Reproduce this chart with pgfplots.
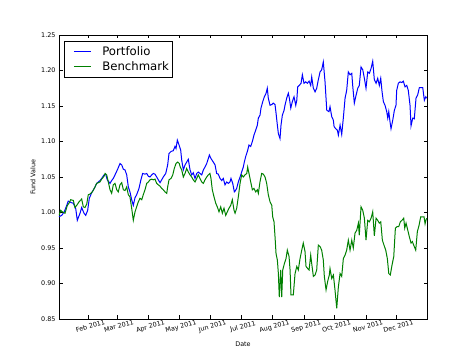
\documentclass[border=0pt]{standalone}
\usepackage{fontspec}
\setmainfont{DejaVu Sans}
\usepackage{pgfplots}
\pgfplotsset{compat=1.18}
\usetikzlibrary{calc}
\definecolor{mplgreen}{rgb}{0,0.5,0}
\definecolor{mplblue}{rgb}{0,0,1}
\begin{document}
\begin{tikzpicture}
\begin{axis}[
  width=368pt, height=284pt, scale only axis,
  xmin=2, xmax=364, ymin=0.85, ymax=1.25,
  axis line style={line width=0.9pt},
  xtick={31,59,90,120,151,181,212,243,273,304,334},
  xticklabels={Feb 2011,Mar 2011,Apr 2011,May 2011,Jun 2011,Jul 2011,Aug 2011,Sep 2011,Oct 2011,Nov 2011,Dec 2011},
  ytick={0.85,0.90,0.95,1.00,1.05,1.10,1.15,1.20,1.25},
  yticklabel style={/pgf/number format/.cd, fixed, fixed zerofill, precision=2},
  /pgf/number format/assume math mode=true,
  tick label style={font=\fontsize{6.4}{7.5}\selectfont},
  xticklabel style={rotate=15, anchor=north, yshift=-1.5pt},
  tick align=inside, major tick length=3.5pt,
  tick style={line width=0.6pt, black},
  every axis x label/.style={at={(axis description cs:0.5,-0.088)}, anchor=center, font=\fontsize{6.4}{7.5}\selectfont},
  every axis y label/.style={at={(axis description cs:-0.0707,0.5)}, anchor=center, rotate=90, font=\fontsize{6.4}{7.5}\selectfont},
  xlabel={Date}, ylabel={Fund Value},
  legend style={at={(axis description cs:0,1)}, anchor=north west, xshift=5pt, yshift=-6pt,
    draw=black, line width=0.6pt, font=\fontsize{11.7}{14}\selectfont, inner xsep=1pt, inner ysep=3pt,
    row sep=1pt},
  legend cell align=left,
  legend image code/.code={\draw[#1, line width=1pt] (-8pt,0pt) (0pt,0pt) -- (17pt,0pt) (26pt,0pt);},
]
\addplot[color=mplblue, draw=mplblue, line width=1pt] coordinates {
(2.0,0.994) (4.7,0.996) (7.2,1.001) (9.6,1.010) (11.1,1.016) (13.8,1.014) (16.1,1.013) (18.4,1.006) (20.0,0.989) (22.7,0.999) (24.3,1.007) (26.6,0.999) (28.3,0.996) (30.2,1.003) (31.8,1.020) (34.2,1.028) (36.7,1.034) (39.1,1.041) (40.7,1.043) (42.3,1.045) (44.0,1.048) (46.3,1.053) (47.9,1.054) (49.5,1.046) (52.2,1.041) (53.8,1.045) (55.4,1.048) (57.1,1.053) (59.7,1.061) (62.0,1.069) (63.7,1.067) (65.3,1.061) (66.9,1.060) (68.6,1.053) (70.2,1.036) (71.8,1.029) (73.5,1.018) (75.1,1.010) (76.8,1.021) (78.4,1.025) (80.7,1.034) (82.4,1.045) (84.3,1.055) (86.6,1.054) (88.3,1.055) (89.9,1.051) (91.5,1.050) (93.2,1.053) (94.8,1.055) (96.4,1.054) (98.1,1.050) (99.7,1.046) (101.4,1.042) (103.0,1.046) (104.6,1.050) (107.0,1.055) (108.9,1.067) (110.2,1.083) (112.2,1.086) (114.4,1.087) (116.1,1.093) (117.1,1.090) (118.4,1.102) (120.1,1.095) (121.7,1.088) (122.7,1.074) (124.3,1.060) (126.0,1.067) (127.6,1.071) (129.2,1.075) (130.9,1.060) (132.5,1.053) (134.1,1.056) (135.8,1.048) (137.5,1.055) (139.0,1.057) (140.7,1.055) (142.4,1.053) (144.0,1.060) (145.6,1.064) (147.3,1.069) (148.9,1.076) (149.9,1.081) (151.5,1.076) (153.8,1.071) (155.5,1.067) (157.1,1.055) (158.7,1.054) (160.4,1.048) (162.1,1.045) (163.6,1.048) (165.3,1.039) (167.0,1.043) (168.6,1.041) (170.2,1.043) (171.2,1.048) (172.9,1.041) (174.5,1.029) (175.2,1.030) (176.8,1.034) (178.4,1.043) (180.1,1.050) (181.7,1.057) (183.3,1.064) (184.3,1.071) (185.7,1.079) (187.3,1.086) (188.9,1.095) (190.6,1.093) (192.2,1.100) (193.8,1.109) (195.5,1.116) (197.1,1.123) (198.1,1.133) (199.7,1.137) (200.7,1.147) (202.4,1.156) (204.0,1.163) (205.7,1.168) (206.9,1.175) (207.9,1.161) (209.6,1.151) (211.3,1.152) (212.8,1.154) (214.5,1.152) (215.5,1.140) (216.8,1.123) (217.8,1.111) (219.4,1.104) (220.4,1.123) (221.7,1.137) (223.4,1.144) (224.3,1.151) (226.0,1.161) (227.6,1.168) (228.6,1.161) (230.0,1.147) (231.5,1.156) (233.2,1.163) (234.9,1.151) (235.9,1.158) (236.8,1.177) (238.4,1.179) (240.1,1.182) (241.4,1.194) (243.0,1.182) (244.7,1.184) (246.3,1.182) (248.0,1.185) (249.6,1.179) (250.6,1.191) (252.2,1.175) (253.9,1.170) (255.5,1.175) (257.1,1.187) (258.8,1.198) (260.4,1.201) (262.0,1.212) (263.7,1.184) (265.4,1.144) (267.6,1.142) (268.6,1.149) (270.3,1.135) (271.9,1.130) (272.6,1.121) (274.2,1.118) (275.8,1.116) (276.8,1.109) (278.5,1.123) (280.1,1.110) (281.7,1.133) (283.4,1.161) (285.0,1.172) (286.6,1.198) (288.3,1.194) (290.0,1.196) (290.9,1.179) (292.5,1.154) (294.2,1.165) (295.9,1.175) (297.4,1.179) (299.1,1.205) (300.8,1.201) (302.4,1.189) (304.0,1.175) (305.7,1.198) (307.3,1.196) (309.0,1.203) (310.6,1.213) (312.2,1.187) (313.9,1.182) (315.5,1.189) (317.1,1.179) (318.5,1.189) (319.8,1.170) (321.1,1.156) (322.7,1.151) (324.4,1.142) (325.4,1.133) (326.4,1.142) (327.6,1.128) (328.6,1.118) (330.3,1.130) (331.9,1.144) (333.5,1.151) (334.2,1.172) (335.8,1.182) (337.5,1.184) (339.2,1.183) (340.7,1.185) (342.4,1.177) (344.1,1.179) (345.6,1.172) (347.3,1.151) (348.3,1.122) (350.0,1.133) (351.5,1.132) (353.2,1.161) (354.9,1.166) (356.5,1.176) (358.1,1.176) (359.8,1.176) (361.4,1.158) (362.8,1.163) (363.7,1.161)
};
\addlegendentry{Portfolio}
\addplot[color=mplgreen, draw=mplgreen, line width=1pt] coordinates {
(2.0,0.996) (3.7,1.003) (5.2,1.001) (7.9,0.999) (10.2,1.010) (11.8,1.013) (13.5,1.018) (16.1,1.017) (17.7,1.007) (19.4,1.010) (21.7,1.015) (24.3,1.019) (25.9,1.008) (27.6,1.007) (29.3,1.012) (30.8,1.025) (32.5,1.026) (34.8,1.029) (37.4,1.036) (39.1,1.041) (40.7,1.042) (42.3,1.043) (44.0,1.047) (46.3,1.051) (47.3,1.055) (48.9,1.053) (50.5,1.043) (52.2,1.032) (53.8,1.027) (55.4,1.039) (57.1,1.041) (58.8,1.032) (60.3,1.029) (62.0,1.039) (63.7,1.042) (65.3,1.032) (66.9,1.031) (68.6,1.036) (70.2,1.025) (71.8,1.022) (73.5,1.006) (75.1,0.989) (76.8,1.001) (78.4,1.008) (80.0,1.015) (81.7,1.020) (83.4,1.018) (84.9,1.025) (86.6,1.032) (88.3,1.041) (89.9,1.043) (91.5,1.046) (93.2,1.047) (94.8,1.046) (96.4,1.047) (98.1,1.041) (99.7,1.039) (101.4,1.037) (103.0,1.034) (104.6,1.032) (106.3,1.029) (108.0,1.027) (108.9,1.036) (110.2,1.046) (112.2,1.048) (113.9,1.053) (115.4,1.062) (117.1,1.069) (118.8,1.071) (120.3,1.069) (121.3,1.064) (122.7,1.060) (124.3,1.050) (126.0,1.055) (127.6,1.062) (129.2,1.057) (130.9,1.053) (132.5,1.050) (134.1,1.046) (135.8,1.043) (137.5,1.048) (139.0,1.053) (140.7,1.048) (142.4,1.043) (144.0,1.041) (145.6,1.046) (147.3,1.050) (148.9,1.053) (150.5,1.055) (151.5,1.048) (152.8,1.032) (154.5,1.022) (156.2,1.013) (157.7,1.008) (159.4,1.001) (161.1,1.008) (162.7,0.999) (164.3,1.006) (166.0,0.996) (167.6,1.001) (169.2,1.006) (170.9,1.010) (172.5,1.018) (174.2,1.003) (175.2,0.999) (176.8,1.006) (178.4,1.022) (180.1,1.041) (181.7,1.053) (183.3,1.050) (185.0,1.053) (186.7,1.055) (187.6,1.064) (188.9,1.055) (190.6,1.043) (192.2,1.032) (193.8,1.034) (195.5,1.029) (197.1,1.032) (198.1,1.027) (199.7,1.043) (201.4,1.055) (203.0,1.054) (204.7,1.050) (206.3,1.041) (207.9,1.025) (209.6,1.015) (211.3,1.010) (212.2,0.994) (213.5,0.987) (214.5,0.966) (215.5,0.942) (216.8,0.933) (217.8,0.914) (218.7,0.881) (220.1,0.919) (221.1,0.881) (222.1,0.919) (223.7,0.928) (225.3,0.935) (226.6,0.947) (228.3,0.938) (229.3,0.919) (230.2,0.884) (232.5,0.884) (234.2,0.914) (235.9,0.924) (237.4,0.919) (239.1,0.935) (240.8,0.947) (242.3,0.957) (244.0,0.945) (245.0,0.924) (246.7,0.921) (248.0,0.919) (249.6,0.940) (250.6,0.928) (252.2,0.910) (253.9,0.912) (255.5,0.919) (257.1,0.954) (258.8,0.952) (260.4,0.947) (262.0,0.933) (263.0,0.910) (264.7,0.891) (266.3,0.903) (267.9,0.912) (268.6,0.921) (270.3,0.907) (271.9,0.912) (273.5,0.891) (275.2,0.865) (276.8,0.895) (278.5,0.914) (280.1,0.910) (281.7,0.935) (283.4,0.940) (285.0,0.947) (286.6,0.961) (288.3,0.947) (290.0,0.961) (291.5,0.950) (293.2,0.971) (294.9,0.975) (296.5,0.985) (297.4,0.968) (299.1,1.008) (300.8,1.003) (302.4,0.992) (304.0,0.961) (305.7,0.989) (307.3,0.987) (309.0,0.992) (310.6,1.001) (312.2,0.967) (313.9,0.992) (315.5,0.989) (317.1,0.985) (318.5,0.987) (320.1,0.961) (321.7,0.954) (323.4,0.947) (325.0,0.935) (326.4,0.914) (327.9,0.912) (329.6,0.926) (331.3,0.938) (332.9,0.978) (334.5,0.980) (336.2,0.980) (337.8,0.987) (339.4,0.989) (341.1,0.992) (342.1,0.978) (343.4,0.985) (345.1,0.975) (346.6,0.966) (348.3,0.957) (349.6,0.959) (351.2,0.953) (352.9,0.947) (354.5,0.973) (356.2,0.982) (357.8,0.994) (359.4,0.994) (361.1,0.994) (362.1,0.984) (363.1,0.990) (364.0,0.992)
};
\addlegendentry{Benchmark}
\end{axis}
\pgfresetboundingbox
\path[use as bounding box] ($(current axis.south west)+(-59pt,-36pt)$) rectangle ($(current axis.north east)+(47pt,35pt)$);
\end{tikzpicture}
\end{document}
